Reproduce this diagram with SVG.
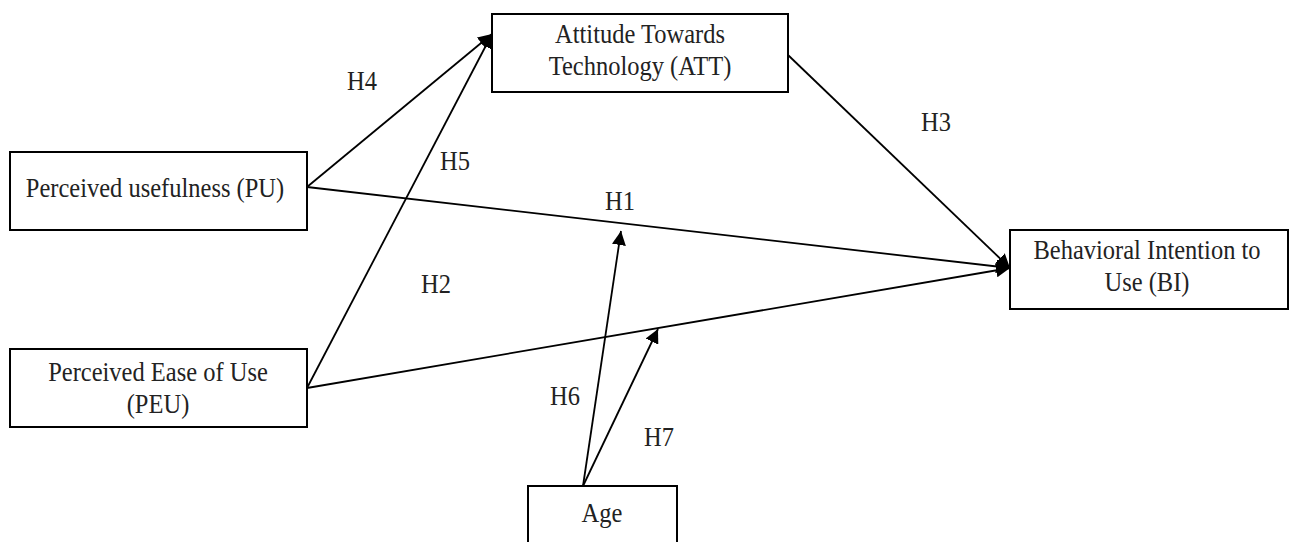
<svg xmlns="http://www.w3.org/2000/svg" width="1293" height="542" viewBox="0 0 1293 542">
<style>
.box{fill:#fff;stroke:#000;stroke-width:2}
.t{font-family:"Liberation Serif",serif;font-size:24.5px;fill:#222;text-anchor:middle}
.c line{stroke:#000;stroke-width:1.8}
</style>
<defs>
<marker id="b" viewBox="0 0 10 10" refX="10" refY="5" markerWidth="14" markerHeight="14" markerUnits="userSpaceOnUse" orient="auto"><path d="M0,0 L10,5 L0,10 z" fill="#000"/></marker>
</defs>
<rect width="1293" height="542" fill="#fff"/>
<g class="c" id="connectors">
<line x1="307" y1="187" x2="492" y2="34" marker-end="url(#b)"/>
<line x1="307" y1="388" x2="492" y2="34" marker-end="url(#b)"/>
<line x1="788" y1="55" x2="1010" y2="268" marker-end="url(#b)"/>
<line x1="307" y1="187" x2="1010" y2="268" marker-end="url(#b)"/>
<line x1="307" y1="388" x2="1010" y2="268" marker-end="url(#b)"/>
<line x1="583" y1="486" x2="621" y2="231" marker-end="url(#b)"/>
<line x1="583" y1="486" x2="658" y2="329" marker-end="url(#b)"/>
</g>
<g id="labels" class="t">
<text transform="translate(362,90) scale(1,1.12)">H4</text>
<text transform="translate(455,170) scale(1,1.12)">H5</text>
<text transform="translate(936,131) scale(1,1.12)">H3</text>
<text transform="translate(620,210) scale(1,1.12)">H1</text>
<text transform="translate(436,293) scale(1,1.12)">H2</text>
<text transform="translate(565,405) scale(1,1.12)">H6</text>
<text transform="translate(659,446) scale(1,1.12)">H7</text>
</g>
<g id="att"><rect class="box" x="492" y="14" width="296" height="78"/><text class="t" transform="translate(640,43) scale(1,1.12)">Attitude Towards</text><text class="t" transform="translate(640,75) scale(1,1.12)">Technology (ATT)</text></g>
<g id="pu"><rect class="box" x="10" y="152" width="297" height="78"/><text class="t" transform="translate(155,197) scale(1,1.12)">Perceived usefulness (PU)</text></g>
<g id="peu"><rect class="box" x="10" y="349" width="297" height="78"/><text class="t" transform="translate(158,381) scale(1,1.12)">Perceived Ease of Use</text><text class="t" transform="translate(158,413) scale(1,1.12)">(PEU)</text></g>
<g id="bi"><rect class="box" x="1010" y="230" width="278" height="79"/><text class="t" transform="translate(1147,259) scale(1,1.12)">Behavioral Intention to</text><text class="t" transform="translate(1147,291) scale(1,1.12)">Use (BI)</text></g>
<g id="age"><rect class="box" x="528" y="486" width="149" height="70"/><text class="t" transform="translate(602,522) scale(1,1.12)">Age</text></g>
</svg>
